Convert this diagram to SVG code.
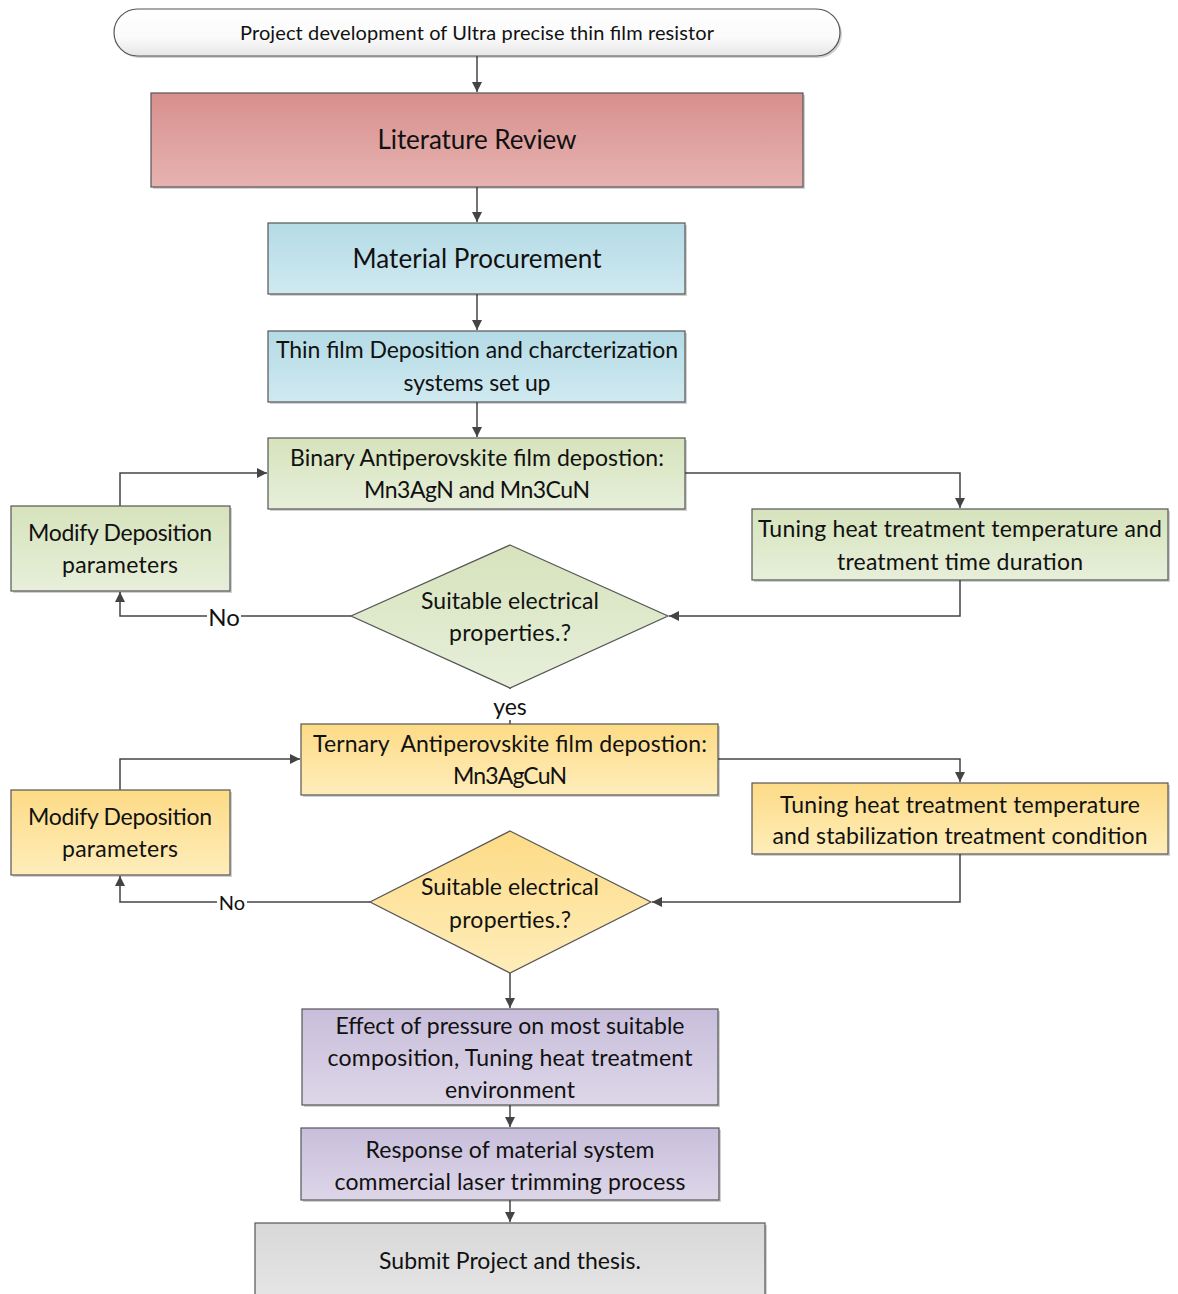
<svg xmlns="http://www.w3.org/2000/svg" width="1178" height="1294" viewBox="0 0 1178 1294">
  <style>
    text { font-family: Lato, "Open Sans", "Liberation Sans", sans-serif; fill: #111; text-anchor: middle; }
    .box { stroke: #555; stroke-width: 1.2; }
    .shadow { fill: #000; opacity: 0.18; }
    .wire { fill: none; stroke: #444; stroke-width: 1.5; }
    .t24 { font-size: 23px; }
    .t20 { font-size: 20px; }
  </style>
  <defs>
    <marker id="arrow" viewBox="0 0 10 10" refX="10" refY="5" markerWidth="10" markerHeight="10" markerUnits="userSpaceOnUse" orient="auto">
      <path d="M0,0 L10,5 L0,10 z" fill="#444"/>
    </marker>
    <linearGradient id="gWhite" x1="0" y1="0" x2="0" y2="1">
      <stop offset="0" stop-color="#ffffff"/>
      <stop offset="0.6" stop-color="#fbfbfb"/>
      <stop offset="1" stop-color="#e6e6e6"/>
    </linearGradient>
    <linearGradient id="gRed" x1="0" y1="0" x2="0" y2="1">
      <stop offset="0" stop-color="#d88f8d"/>
      <stop offset="1" stop-color="#e6b3b1"/>
    </linearGradient>
    <linearGradient id="gBlue" x1="0" y1="0" x2="0" y2="1">
      <stop offset="0" stop-color="#b4dbe6"/>
      <stop offset="1" stop-color="#d0e9f0"/>
    </linearGradient>
    <linearGradient id="gGreen" x1="0" y1="0" x2="0" y2="1">
      <stop offset="0" stop-color="#d6e3bc"/>
      <stop offset="1" stop-color="#e7efda"/>
    </linearGradient>
    <linearGradient id="gYellow" x1="0" y1="0" x2="0" y2="1">
      <stop offset="0" stop-color="#fddb86"/>
      <stop offset="1" stop-color="#feedba"/>
    </linearGradient>
    <linearGradient id="gPurple" x1="0" y1="0" x2="0" y2="1">
      <stop offset="0" stop-color="#c8bedb"/>
      <stop offset="1" stop-color="#ddd6e8"/>
    </linearGradient>
    <linearGradient id="gGrey" x1="0" y1="0" x2="0" y2="1">
      <stop offset="0" stop-color="#d8d8d8"/>
      <stop offset="1" stop-color="#e6e6e6"/>
    </linearGradient>
  </defs>

  <rect width="1178" height="1294" fill="#ffffff"/>

  <!-- connectors -->
  <g id="connectors">
    <path class="wire" d="M477,56 V92" marker-end="url(#arrow)"/>
    <path class="wire" d="M477,187 V222" marker-end="url(#arrow)"/>
    <path class="wire" d="M477,294 V330" marker-end="url(#arrow)"/>
    <path class="wire" d="M477,402 V437" marker-end="url(#arrow)"/>
    <path class="wire" d="M120,506 V473 H267" marker-end="url(#arrow)"/>
    <path class="wire" d="M685,473 H960 V508" marker-end="url(#arrow)"/>
    <path class="wire" d="M960,580 V616 H669" marker-end="url(#arrow)"/>
    <path class="wire" d="M351,616 H120 V592" marker-end="url(#arrow)"/>
    <path class="wire" d="M510,688 V724"/>
    <path class="wire" d="M120,790 V759 H300" marker-end="url(#arrow)"/>
    <path class="wire" d="M718,759 H960 V782" marker-end="url(#arrow)"/>
    <path class="wire" d="M960,854 V902 H652" marker-end="url(#arrow)"/>
    <path class="wire" d="M370,902 H120 V876" marker-end="url(#arrow)"/>
    <path class="wire" d="M510,973 V1008" marker-end="url(#arrow)"/>
    <path class="wire" d="M510,1105 V1127" marker-end="url(#arrow)"/>
    <path class="wire" d="M510,1200 V1222" marker-end="url(#arrow)"/>
    <!-- branch labels -->
    <rect x="207" y="603" width="34" height="28" fill="#fff"/>
    <text x="224" y="626" style="font-size:24px">No</text>
    <rect x="217" y="891" width="30" height="24" fill="#fff"/>
    <text x="232" y="910" class="t20">No</text>
    <rect x="488" y="689" width="44" height="31" fill="#fff"/>
    <text x="510" y="715" style="font-size:23px">yes</text>
  </g>

  <g id="start">
    <rect x="116" y="11" width="726" height="47" rx="23.5" class="shadow"/>
    <rect x="114" y="9" width="726" height="47" rx="23.5" fill="url(#gWhite)" class="box"/>
    <text x="477" y="40" class="t20" textLength="474">Project development of Ultra precise thin film resistor</text>
  </g>

  <g id="literature-review">
    <rect x="153" y="95" width="652" height="94" class="shadow"/>
    <rect x="151" y="93" width="652" height="94" fill="url(#gRed)" class="box"/>
    <text x="477" y="149" style="font-size:26px" textLength="199">Literature Review</text>
  </g>

  <g id="material-procurement">
    <rect x="270" y="225" width="417" height="71" class="shadow"/>
    <rect x="268" y="223" width="417" height="71" fill="url(#gBlue)" class="box"/>
    <text x="477" y="268" style="font-size:26px" textLength="249">Material Procurement</text>
  </g>

  <g id="systems-setup">
    <rect x="270" y="333" width="417" height="71" class="shadow"/>
    <rect x="268" y="331" width="417" height="71" fill="url(#gBlue)" class="box"/>
    <text x="477" y="358" class="t24" textLength="402">Thin film Deposition and charcterization</text>
    <text x="477" y="391" class="t24" textLength="147">systems set up</text>
  </g>

  <g id="binary-deposition">
    <rect x="270" y="440" width="417" height="71" class="shadow"/>
    <rect x="268" y="438" width="417" height="71" fill="url(#gGreen)" class="box"/>
    <text x="477" y="466" class="t24" textLength="374">Binary Antiperovskite film depostion:</text>
    <text x="477" y="498" class="t24" textLength="226">Mn3AgN and Mn3CuN</text>
  </g>

  <g id="modify-binary">
    <rect x="13" y="508" width="219" height="85" class="shadow"/>
    <rect x="11" y="506" width="219" height="85" fill="url(#gGreen)" class="box"/>
    <text x="120" y="541" class="t24" textLength="184">Modify Deposition</text>
    <text x="120" y="573" class="t24" textLength="116">parameters</text>
  </g>

  <g id="tuning-binary">
    <rect x="754" y="511" width="416" height="71" class="shadow"/>
    <rect x="752" y="509" width="416" height="71" fill="url(#gGreen)" class="box"/>
    <text x="960" y="537" class="t24" textLength="404">Tuning heat treatment temperature and</text>
    <text x="960" y="570" class="t24" textLength="246">treatment time duration</text>
  </g>

  <g id="check-binary">
    <polygon points="510,545 668,616 510,688 351,616" fill="url(#gGreen)" class="box"/>
    <text x="510" y="609" class="t24" textLength="178">Suitable electrical</text>
    <text x="510" y="641" class="t24" textLength="122">properties.?</text>
  </g>

  <g id="ternary-deposition">
    <rect x="303" y="726" width="417" height="71" class="shadow"/>
    <rect x="301" y="724" width="417" height="71" fill="url(#gYellow)" class="box"/>
    <text x="510" y="752" class="t24" textLength="394" xml:space="preserve">Ternary  Antiperovskite film depostion:</text>
    <text x="510" y="784" class="t24" textLength="114">Mn3AgCuN</text>
  </g>

  <g id="modify-ternary">
    <rect x="13" y="792" width="219" height="85" class="shadow"/>
    <rect x="11" y="790" width="219" height="85" fill="url(#gYellow)" class="box"/>
    <text x="120" y="825" class="t24" textLength="184">Modify Deposition</text>
    <text x="120" y="857" class="t24" textLength="116">parameters</text>
  </g>

  <g id="tuning-ternary">
    <rect x="754" y="785" width="416" height="71" class="shadow"/>
    <rect x="752" y="783" width="416" height="71" fill="url(#gYellow)" class="box"/>
    <text x="960" y="813" class="t24" textLength="360">Tuning heat treatment temperature</text>
    <text x="960" y="844" class="t24" textLength="375">and stabilization treatment condition</text>
  </g>

  <g id="check-ternary">
    <polygon points="510,831 651,902 510,973 370,902" fill="url(#gYellow)" class="box"/>
    <text x="510" y="895" class="t24" textLength="178">Suitable electrical</text>
    <text x="510" y="928" class="t24" textLength="122">properties.?</text>
  </g>

  <g id="pressure-effect">
    <rect x="304" y="1011" width="416" height="96" class="shadow"/>
    <rect x="302" y="1009" width="416" height="96" fill="url(#gPurple)" class="box"/>
    <text x="510" y="1034" class="t24" textLength="349">Effect of pressure on most suitable</text>
    <text x="510" y="1066" class="t24" textLength="365">composition, Tuning heat treatment</text>
    <text x="510" y="1098" class="t24" textLength="130">environment</text>
  </g>

  <g id="laser-trimming">
    <rect x="303" y="1130" width="418" height="72" class="shadow"/>
    <rect x="301" y="1128" width="418" height="72" fill="url(#gPurple)" class="box"/>
    <text x="510" y="1158" class="t24" textLength="289">Response of material system</text>
    <text x="510" y="1190" class="t24" textLength="351">commercial laser trimming process</text>
  </g>

  <g id="submit">
    <rect x="257" y="1225" width="510" height="80" class="shadow"/>
    <rect x="255" y="1223" width="510" height="80" fill="url(#gGrey)" class="box"/>
    <text x="510" y="1269" class="t24" textLength="262">Submit Project and thesis.</text>
  </g>
</svg>
